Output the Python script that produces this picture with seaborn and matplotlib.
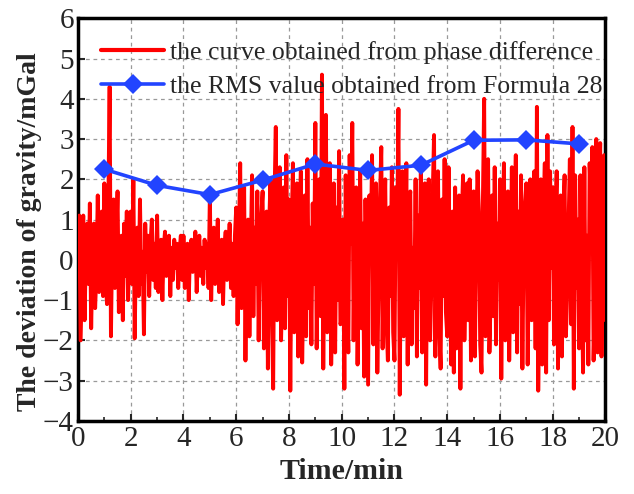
import numpy as np
import pandas as pd
import seaborn as sns
import matplotlib.pyplot as plt
from matplotlib.ticker import MultipleLocator

# ---- data ----
curve_values = [
    0.3, 1.1, -2.0, -0.4, 1.1, -1.5, 0.2, 0.9, -0.6, 1.4, -1.7, 0.1, 0.9, -1.2, -0.3, 1.6, -0.8, 0.5, 1.2, -0.9,
    1.9, -0.5, -1.1, 1.3, 4.3, -1.9, 0.7, 1.5, -0.7, 0.4, 1.7, -1.3, 0.2, 0.6, -1.5, 0.9, -0.4, 1.2, -1.0, 0.5,
    1.2, -0.6, 2.0, -1.95, 0.3, 0.8, -0.9, 1.5, -0.6, 0.2, -1.85, 0.9, -0.3, 0.6, -0.9, 0.4, 1.0, -0.5, 0.4, -0.7,
    1.1, -0.8, 0.2, 0.5, -1.0, 0.3, 0.7, -0.4, 0.1, 0.6, -0.9, 0.3, -0.5, 0.5, -0.2, 0.4, -0.7, 0.2, 0.6, -0.5,
    0.6, -0.7, 0.1, 0.4, -1.0, 0.3, 0.5, -0.3, 0.2, 0.7, -0.8, 0.1, 0.6, -0.4, 0.3, -0.6, 0.5, -0.2, 0.4, -0.7,
    1.6, -1.0, 0.4, 0.8, -0.6, 0.2, 1.0, -0.8, -0.2, 0.5, -1.1, 0.3, 0.7, -0.5, 0.1, 0.9, -0.7, 0.4, -0.9, 0.6,
    1.3, -1.6, 0.5, 2.4, -1.2, -0.3, 1.8, -2.5, 0.6, 1.0, -1.9, 0.2, 2.1, -1.4, 0.8, -0.6, 1.7, -2.0, 0.4, 1.1,
    1.7, -2.2, 0.3, 1.2, -2.7, 0.9, 2.0, -1.1, -3.2, 1.5, 3.3, -1.5, 0.6, 2.3, -2.0, -0.5, 1.8, -1.7, 2.6, -0.9,
    1.5, -3.25, 0.7, 2.4, -1.8, 0.2, 1.9, -2.4, 1.0, 2.2, -2.55, -0.4, 1.6, -1.9, 2.5, -1.2, 0.8, -2.1, 1.4, -0.6,
    3.4, -2.2, 0.9, 2.0, -1.4, 4.6, -2.7, 1.2, 3.6, -1.8, 0.5, 2.4, -2.6, -0.8, 1.9, -2.3, 1.3, -1.0, 2.7, -1.6,
    -1.5, 1.0, -3.2, 2.1, -0.7, -2.3, 2.6, 0.4, 3.4, -2.0, 1.1, 1.8, -2.6, -0.3, 2.2, -1.7, 0.9, -2.9, 1.5, -0.8,
    -3.1, 1.6, 0.2, 2.6, -2.1, 1.2, 1.9, -2.8, -0.5, 1.5, 2.8, -2.2, 0.7, 2.0, -1.6, -2.5, 1.3, -0.9, 2.3, -1.8,
    -2.5, 1.8, 0.6, 3.75, -3.35, 1.0, 2.2, -1.9, -0.4, 2.4, -2.6, 1.3, 1.7, -2.1, 0.3, -1.2, 2.0, -2.4, 1.1, -0.7,
    2.4, -2.3, 0.5, 1.9, -3.1, 1.4, 2.0, -2.0, -0.6, 1.6, 3.1, -2.4, 0.8, 2.2, -1.7, -2.7, 1.5, -0.9, 2.5, -1.3,
    -1.9, 2.3, -0.3, -2.6, 1.2, -2.8, 1.8, -2.2, 0.6, 1.6, -3.2, 1.0, 2.1, -2.0, -0.4, 1.9, -1.5, 2.0, -2.5, 0.7,
    1.7, -2.4, 0.8, 2.2, 1.2, -2.1, -2.8, 1.3, 4.0, -1.9, 0.4, 2.5, -2.3, -0.8, 1.6, -1.4, 2.3, -2.1, 0.9, -0.5,
    2.0, -2.95, 0.6, 2.4, -2.0, 1.1, 1.7, -2.5, -0.3, 2.3, -1.8, 0.7, 2.6, -2.3, 1.2, -1.1, 2.1, -2.7, 0.5, 1.4,
    1.9, -2.6, 0.3, 2.0, -1.5, 1.5, 2.2, -2.2, 3.8, -3.25, -0.6, 2.0, -2.6, 1.0, 2.4, -2.8, 3.1, -1.5, 2.2, -0.2,
    1.8, -2.1, 0.9, 2.2, -2.7, 0.4, 1.6, -2.4, 1.1, 2.1, -1.9, -0.8, 0.8, 2.5, -1.6, 3.3, -3.2, 2.1, -0.7, 1.0,
    -2.2, 2.1, -0.5, -2.8, 2.3, -2.0, 0.6, -2.6, 2.4, 1.2, 2.8, -2.5, -1.0, 3.0, -2.3, 1.6, 2.9, -2.4, 0.8, 2.6,
    -1.5,
]
curve_time = [round(20 * i / (len(curve_values) - 1), 3) for i in range(len(curve_values))]
rms_time = [1, 3, 5, 7, 9, 11, 13, 15, 17, 19]
rms_values = [2.25, 1.85, 1.62, 1.98, 2.38, 2.22, 2.35, 2.97, 2.98, 2.88]

curve_label = "the curve obtained from phase difference"
rms_label = "the RMS value obtained from Formula 28"

sns.set_style("ticks")
plt.rcParams['font.family'] = ['Liberation Serif', 'DejaVu Serif']

fig, ax = plt.subplots(figsize=(6.34, 4.94), dpi=100)
fig.subplots_adjust(left=0.123, right=0.955, top=0.963, bottom=0.148)

df_curve = pd.DataFrame({"t": curve_time, "v": curve_values})
df_rms = pd.DataFrame({"t": rms_time, "v": rms_values})

sns.lineplot(data=df_curve, x="t", y="v", ax=ax, color="#ff0000", lw=2.8,
             label=curve_label, zorder=3)
sns.lineplot(data=df_rms, x="t", y="v", ax=ax, color="#2244ff", lw=2.6,
             marker="D", markersize=10, markeredgewidth=0, label=rms_label,
             zorder=4)

ax.set_xlim(0, 20)
ax.set_ylim(-4, 6)
ax.xaxis.set_major_locator(MultipleLocator(2))
ax.xaxis.set_minor_locator(MultipleLocator(1))
ax.yaxis.set_major_locator(MultipleLocator(1))

ax.grid(True, which="major", color="#999999", linestyle=(0, (3, 3)), lw=0.9)
ax.set_axisbelow(True)

for s in ax.spines.values():
    s.set_linewidth(2.5)
    s.set_color("black")

ax.tick_params(which="major", direction="in", length=5, width=1.5,
               labelsize=21, pad=3)
ax.tick_params(axis="x", which="major", pad=4)
ax.tick_params(which="minor", direction="in", length=3, width=1.2)

ax.set_xlabel("Time/min", fontsize=21.5, fontweight="bold", labelpad=4)
ax.set_ylabel("The deviation of gravity/mGal", fontsize=20,
              fontweight="bold", labelpad=0)
ax.yaxis.set_label_coords(-0.068, 0.47)

leg = ax.legend(loc="upper left", bbox_to_anchor=(0.0, 1.0), frameon=False,
                fontsize=18.5, handlelength=2.45, handletextpad=0.25,
                borderaxespad=0.5, labelspacing=0.4)
leg.get_lines()[0].set_linewidth(3.0)

fig.savefig("out.png", dpi=100)
